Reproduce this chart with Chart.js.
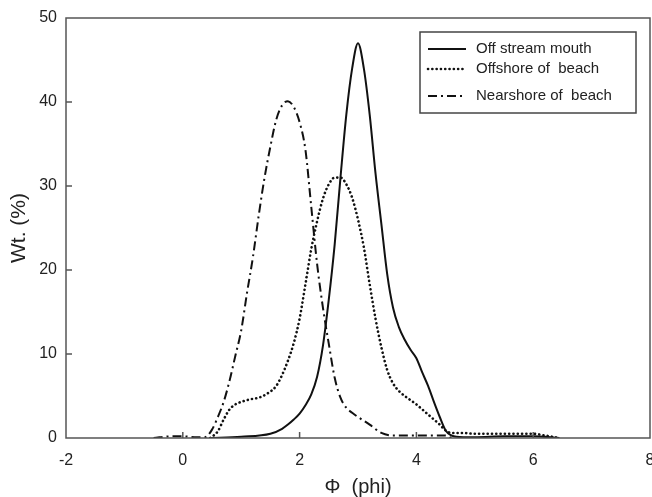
<!DOCTYPE html>
<html lang="en">
<head>
  <meta charset="UTF-8">
  <title>Grain size distribution</title>
  <script src="https://cdn.jsdelivr.net/npm/chart.js"></script>
  <style>
    body { margin: 0; background: #fff; }
  </style>
</head>
<body>
  <canvas id="grainChart" width="652" height="497"></canvas>

  <script>
    // phi values and weight %
    const offStreamX = [0.45, 1.0, 1.5, 1.7, 1.8, 1.9, 2.0, 2.1, 2.2, 2.3, 2.4, 2.5, 2.6, 2.7, 2.8, 2.9, 3.0, 3.1, 3.2, 3.3, 3.4, 3.5, 3.6, 3.7, 3.8, 3.9, 4.0, 4.1, 4.2, 4.3, 4.4, 4.5, 4.6, 4.8, 5.0, 5.5, 6.0, 6.45];
    const offStreamY = [0, 0.15, 0.5, 1.1, 1.6, 2.2, 2.9, 3.9, 5.2, 7.3, 11, 16.5, 23, 31, 38.5, 44, 47, 44, 38.5, 31.5, 25.5, 19.5, 15.5, 13.2, 11.7, 10.5, 9.5, 7.8, 6.2, 4.3, 2.5, 0.9, 0.3, 0.1, 0.1, 0.2, 0.2, 0];

    const offshoreX = [0.47, 0.6, 0.7, 0.8, 0.9, 1.0, 1.15, 1.3, 1.45, 1.6, 1.7, 1.8, 1.9, 2.0, 2.1, 2.2, 2.3, 2.4, 2.5, 2.6, 2.7, 2.8, 2.9, 3.0, 3.1, 3.2, 3.3, 3.4, 3.5, 3.6, 3.7, 3.8, 3.9, 4.0, 4.1, 4.2, 4.3, 4.4, 4.5, 4.6, 4.8, 5.0, 5.5, 6.0, 6.2, 6.45];
    const offshoreY = [0, 0.8, 2.2, 3.4, 4.0, 4.3, 4.6, 4.8, 5.3, 6.2, 7.5, 9.2, 11.3, 14.2, 18.3, 22.5, 25.8, 28.5, 30.2, 31, 31, 30.2, 28.6, 26, 22.7, 18.3, 14.2, 10.8, 8.1, 6.5, 5.6, 5.0, 4.5, 4.0, 3.4, 2.8, 2.2, 1.6, 0.9, 0.6, 0.6, 0.5, 0.5, 0.5, 0.3, 0];

    const nearshoreX = [-0.5, -0.2, 0.0, 0.2, 0.38, 0.5, 0.6, 0.7, 0.8, 0.9, 1.0, 1.1, 1.2, 1.3, 1.4, 1.5, 1.6, 1.7, 1.8, 1.9, 2.0, 2.1, 2.2, 2.3, 2.4, 2.5, 2.6, 2.7, 2.8, 2.9, 3.0, 3.2, 3.4, 3.6, 4.0, 4.5, 4.6];
    const nearshoreY = [0, 0.2, 0.2, 0.1, 0.1, 1.0, 2.5, 4.3, 6.8, 9.8, 12.8, 17.3, 21.5, 26.5, 31, 34.7, 37.9, 39.6, 40.1, 39.4, 37.6, 34.3, 27.5, 20.7, 15.5, 11.2, 7.2, 4.8, 3.6, 3.0, 2.5, 1.6, 0.6, 0.3, 0.3, 0.3, 0];

    const seriesNames = ['Off stream mouth', 'Offshore of  beach', 'Nearshore of  beach'];
    const xTicks = [-2, 0, 2, 4, 6, 8];
    const yTicks = [0, 10, 20, 30, 40, 50];

    const ink = '#111';
    const axisColor = '#555';
    const fontFamily = '"Liberation Sans", Arial, sans-serif';

    function toPoints(xs, ys) {
      return xs.map((x, i) => ({ x: x, y: ys[i] }));
    }

    // frame box, inward ticks and the legend box
    const framePlugin = {
      id: 'frame',
      afterDraw(chart) {
        const ctx = chart.ctx;
        const a = chart.chartArea;
        const xs = chart.scales.x;
        const ys = chart.scales.y;
        ctx.save();
        ctx.strokeStyle = axisColor;
        ctx.lineWidth = 1.5;
        ctx.strokeRect(a.left, a.top, a.right - a.left, a.bottom - a.top);
        ctx.beginPath();
        xTicks.slice(1, -1).forEach(v => {
          const px = xs.getPixelForValue(v);
          ctx.moveTo(px, a.bottom);
          ctx.lineTo(px, a.bottom - 6);
        });
        yTicks.slice(1, -1).forEach(v => {
          const py = ys.getPixelForValue(v);
          ctx.moveTo(a.left, py);
          ctx.lineTo(a.left + 6, py);
        });
        ctx.stroke();

        // legend
        const boxW = 216, boxH = 81;
        const bx = a.right - 14 - boxW;
        const by = a.top + 14;
        ctx.fillStyle = '#fff';
        ctx.fillRect(bx, by, boxW, boxH);
        ctx.strokeStyle = '#444';
        ctx.lineWidth = 1.5;
        ctx.strokeRect(bx, by, boxW, boxH);
        const rowY = [17, 37, 64];
        chart.data.datasets.forEach((ds, i) => {
          const y = by + rowY[i];
          ctx.beginPath();
          ctx.strokeStyle = ink;
          ctx.lineWidth = ds.borderWidth;
          ctx.lineCap = ds.borderCapStyle || 'butt';
          ctx.setLineDash(ds.borderDash || []);
          ctx.moveTo(bx + 8, y);
          ctx.lineTo(bx + 46, y);
          ctx.stroke();
          ctx.setLineDash([]);
          ctx.fillStyle = '#222';
          ctx.font = '15px ' + fontFamily;
          ctx.textBaseline = 'middle';
          ctx.fillText(ds.label, bx + 56, y);
        });
        ctx.restore();
      }
    };

    const ctx = document.getElementById('grainChart').getContext('2d');

    const grainChart = new Chart(ctx, {
      type: 'line',
      data: {
        datasets: [
          {
            label: seriesNames[0],
            data: toPoints(offStreamX, offStreamY),
            borderColor: ink,
            borderWidth: 2,
            pointRadius: 0,
            cubicInterpolationMode: 'monotone',
            fill: false
          },
          {
            label: seriesNames[1],
            data: toPoints(offshoreX, offshoreY),
            borderColor: ink,
            borderWidth: 2.6,
            borderDash: [0.1, 4.2],
            borderCapStyle: 'round',
            pointRadius: 0,
            cubicInterpolationMode: 'monotone',
            fill: false
          },
          {
            label: seriesNames[2],
            data: toPoints(nearshoreX, nearshoreY),
            borderColor: ink,
            borderWidth: 2,
            borderDash: [9, 4, 2, 4],
            pointRadius: 0,
            cubicInterpolationMode: 'monotone',
            fill: false
          }
        ]
      },
      options: {
        responsive: false,
        animation: false,
        layout: { padding: { top: 18, right: 2, left: 0, bottom: 0 } },
        plugins: {
          legend: { display: false },
          tooltip: { enabled: false }
        },
        scales: {
          x: {
            type: 'linear',
            min: -2,
            max: 8,
            afterBuildTicks: s => { s.ticks = xTicks.map(v => ({ value: v })); },
            afterFit: s => { s.height = 59; s.paddingLeft = 0; s.paddingRight = 0; },
            border: { display: false },
            grid: { display: false, drawTicks: false },
            ticks: {
              padding: 13,
              color: '#222',
              maxRotation: 0,
              font: { family: fontFamily, size: 16 }
            },
            title: {
              display: true,
              text: 'Φ  (phi)',
              color: '#222',
              padding: { top: 0, bottom: -2 },
              font: { family: fontFamily, size: 20 }
            }
          },
          y: {
            min: 0,
            max: 50,
            afterBuildTicks: s => { s.ticks = yTicks.map(v => ({ value: v })); },
            afterFit: s => { s.width = 66; s.paddingTop = 0; s.paddingBottom = 0; },
            border: { display: false },
            grid: { display: false, drawTicks: false },
            ticks: {
              padding: 9,
              color: '#222',
              font: { family: fontFamily, size: 16 }
            },
            title: {
              display: true,
              text: 'Wt. (%)',
              color: '#222',
              padding: { top: 7, bottom: 0 },
              font: { family: fontFamily, size: 21 }
            }
          }
        }
      },
      plugins: [framePlugin]
    });
  </script>
</body>
</html>
